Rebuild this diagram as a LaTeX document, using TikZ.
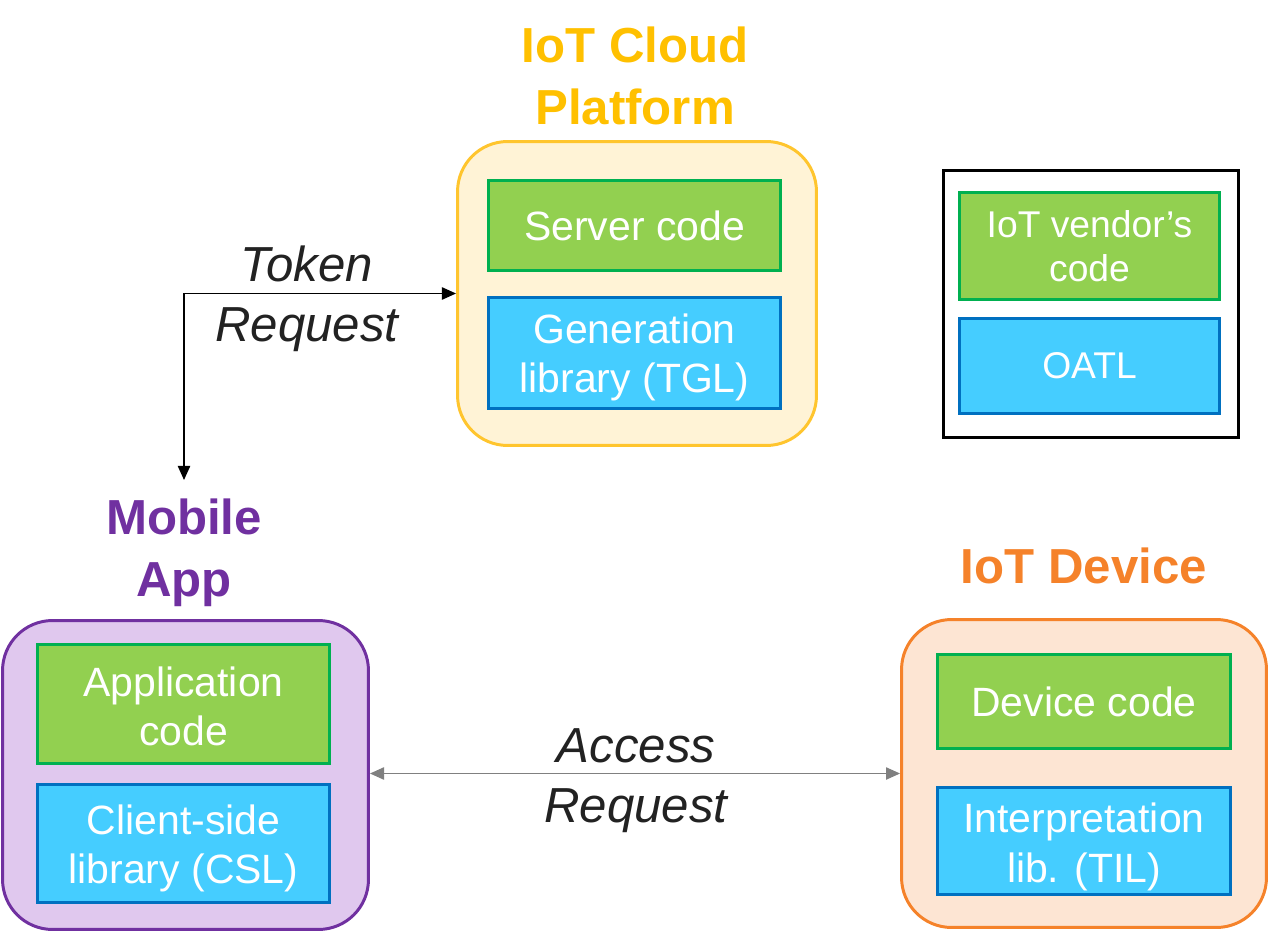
\documentclass[tikz,border=0pt]{standalone}
\usepackage{fontspec}
\setmainfont{Liberation Sans}
\usetikzlibrary{arrows.meta, positioning}

\definecolor{codegreen}{HTML}{92D050}
\definecolor{codeedge}{HTML}{00B050}
\definecolor{libblue}{HTML}{45CDFF}
\definecolor{libedge}{HTML}{0070C0}
\definecolor{cloudfill}{HTML}{FFF3D6}
\definecolor{cloudedge}{HTML}{FFC52E}
\definecolor{cloudtext}{HTML}{FFC000}
\definecolor{appfill}{HTML}{E0C8EE}
\definecolor{appedge}{HTML}{7030A0}
\definecolor{devfill}{HTML}{FDE5D3}
\definecolor{devedge}{HTML}{F5822A}
\definecolor{labelgray}{HTML}{222222}

\newcommand{\boxfont}{\fontsize{23.3}{28.3}\selectfont}
\newcommand{\legendfont}{\fontsize{21.2}{25}\selectfont}
\newcommand{\titlefont}{\fontsize{28}{35}\selectfont\bfseries}
\newcommand{\labelfont}{\fontsize{28}{34}\selectfont\itshape}
\newcommand{\topstrut}[1]{\rule{0pt}{#1}}

\tikzset{
  codebox/.style={draw=codeedge, fill=codegreen, line width=1.6pt, text=white,
    align=center, font=\boxfont, inner sep=0pt, minimum width=5.85cm},
  libbox/.style={draw=libedge, fill=libblue, line width=1.6pt, text=white,
    align=center, font=\boxfont, inner sep=0pt, minimum width=5.85cm},
  platform/.style={rounded corners=1cm, line width=1.7pt, inner sep=0pt},
  title/.style={font=\titlefont, align=center},
  reqlabel/.style={font=\labelfont, align=center, text=labelgray},
}

\begin{document}
\begin{tikzpicture}[x=0.02cm, y=-0.02cm]
\useasboundingbox (0,0) rectangle (1270,932);

% cloud platform
\node[platform, draw=cloudedge, fill=cloudfill, minimum width=7.18cm, minimum height=6.08cm] (cloud) at (637,293.5) {};
\node[codebox, minimum height=1.8cm] (server) at (634.5,225.5) {Server code};
\node[libbox, minimum height=2.22cm] (tgl) at (634.5,353) {\topstrut{22pt}Generation\\library (TGL)};
\node[title, text=cloudtext] (cloudtitle) at (635,76) {IoT Cloud\\Platform};

% legend
\node[draw=black, line width=1.4pt, minimum width=5.9cm, minimum height=5.34cm, inner sep=0pt] (legend) at (1091,304) {};
\node[codebox, font=\legendfont, minimum width=5.2cm, minimum height=2.14cm] (vendor) at (1089.5,246) {IoT vendor’s\\code};
\node[libbox, font=\legendfont, minimum width=5.2cm, minimum height=1.9cm] (oatl) at (1089.5,366) {OATL};

% mobile app
\node[platform, draw=appedge, fill=appfill, minimum width=7.32cm, minimum height=6.18cm] (mobile) at (185.5,775) {};
\node[codebox, minimum height=2.38cm] (appcode) at (183.5,704) {\topstrut{19.5pt}Application\\code};
\node[libbox, minimum height=2.36cm] (csl) at (183.5,843.5) {\topstrut{22.5pt}Client-side\\library (CSL)};
\node[title, text=appedge] (mobiletitle) at (184,553) {Mobile\\App};

% iot device
\node[platform, draw=devedge, fill=devfill, minimum width=7.3cm, minimum height=6.16cm] (device) at (1084,773.5) {};
\node[codebox, minimum height=1.88cm] (devcode) at (1084,701.5) {Device code};
\node[libbox, minimum height=2.14cm] (til) at (1084,841) {\topstrut{24pt}Interpretation\\lib. (TIL)};
\node[title, text=devedge] (devtitle) at (1084,566) {IoT Device};

% requests
\coordinate (apptop) at (184,480);
\draw[line width=0.8pt, {Triangle[length=8pt,width=7pt]}-{Triangle[length=8pt,width=7pt]}] (apptop) |- (cloud.west);
\node[reqlabel] (token) at (307,299) {Token\\Request};
\draw[line width=0.8pt, color=gray, {Triangle[length=8pt,width=7pt]}-{Triangle[length=8pt,width=7pt]}] (mobile.east |- device.west) -- (device.west);
\node[reqlabel] (access) at (636,781) {Access\\Request};
\end{tikzpicture}
\end{document}
